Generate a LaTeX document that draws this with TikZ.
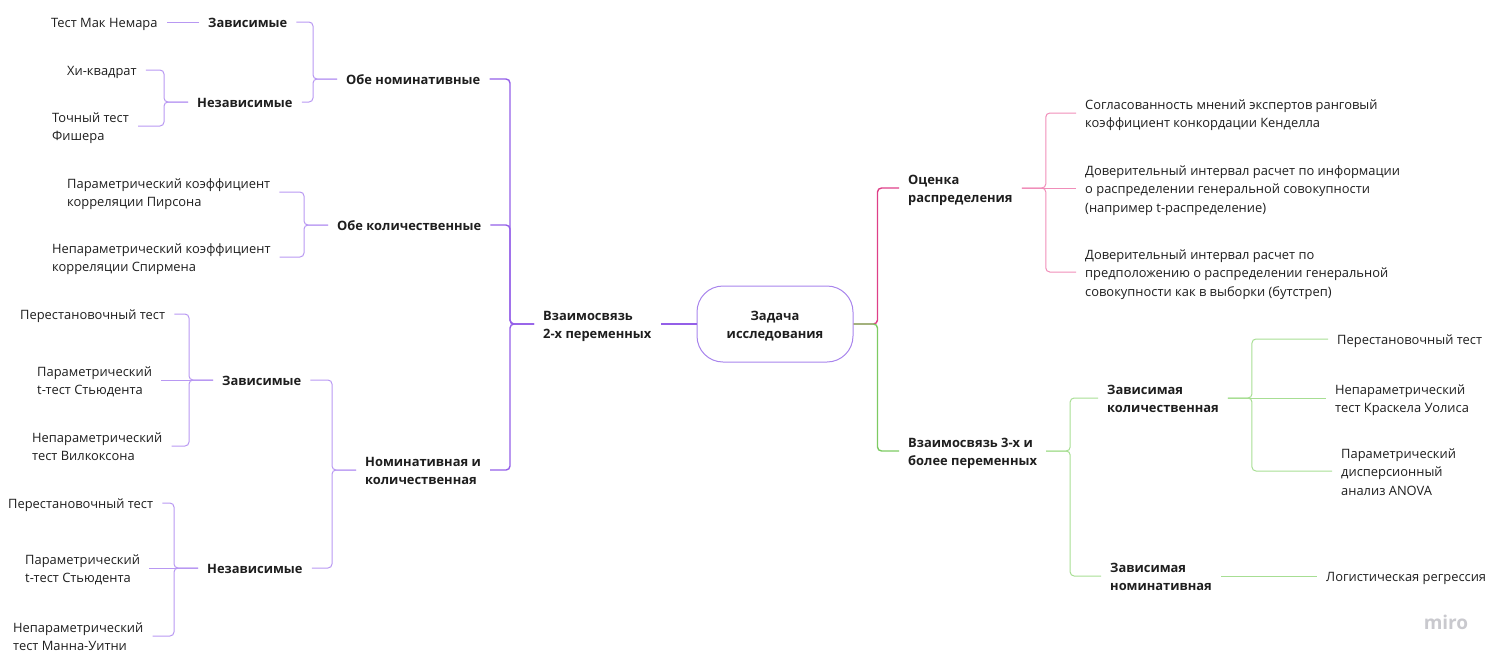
\documentclass[tikz,border=0pt]{standalone}
\usepackage{fontspec}
\setmainfont{Open Sans}
\usetikzlibrary{positioning}

\definecolor{txt}{HTML}{1E1E1E}
\definecolor{violetD}{HTML}{945FE8}
\definecolor{violetL}{HTML}{B898F2}
\definecolor{pinkD}{HTML}{DE3F88}
\definecolor{pinkL}{HTML}{F08DB9}
\definecolor{greenD}{HTML}{7DCB62}
\definecolor{greenL}{HTML}{A7DE93}
\definecolor{rim}{HTML}{A884EC}
\definecolor{wmark}{HTML}{C9C9CE}

\newcommand{\fsz}{\fontsize{12.9}{18.5}\selectfont}
\newcommand{\lns}[1]{\raisebox{-2pt}[\height][\depth]{\begin{tabular}{@{}l@{}}#1\end{tabular}}}
\newcommand{\lnc}[1]{\raisebox{-2pt}[\height][\depth]{\begin{tabular}{@{}c@{}}#1\end{tabular}}}

\tikzset{
  leaf/.style={anchor=west, inner xsep=9pt, inner ysep=0pt, text=txt, font=\fsz},
  branch/.style={leaf, font=\fsz\bfseries},
  lk/.style={line width=1pt, rounded corners=4pt, violetL},
  lkroot/.style={lk, line width=1.4pt, violetD},
  pk/.style={line width=1pt, rounded corners=4pt, pinkL},
  pkroot/.style={pk, line width=1.4pt, pinkD},
  gk/.style={line width=1pt, rounded corners=4pt, greenL},
  gkroot/.style={gk, line width=1.4pt, greenD}
}

\begin{document}
\begin{tikzpicture}[x=1pt, y=-1pt]
  \useasboundingbox (0,0) rectangle (1502,665);

  % root
  \node[draw=rim, line width=1pt, rounded corners=26pt, minimum width=156pt, minimum height=76pt,
        text=txt, font=\fsz\bfseries] (task) at (775,324) {\lnc{Задача\\исследования}};

  % left tree
  \node[branch] (pair) at (534,324) {\lns{Взаимосвязь\\2-х переменных}};
  \node[branch] (nomnom) at (337,79) {\lns{Обе номинативные}};
  \node[branch] (qq) at (328,225) {\lns{Обе количественные}};
  \node[branch] (nq) at (356,470) {\lns{Номинативная и\\количественная}};
  \node[branch] (nnDep) at (199,22) {\lns{Зависимые}};
  \node[branch] (nnInd) at (188,102) {\lns{Независимые}};
  \node[branch] (nqDep) at (213,380) {\lns{Зависимые}};
  \node[branch] (nqInd) at (198,568) {\lns{Независимые}};
  \node[leaf] (mcnemar) at (42,22) {\lns{Тест Мак Немара}};
  \node[leaf] (chi) at (58,70) {\lns{Хи-квадрат}};
  \node[leaf] (fisher) at (43,126) {\lns{Точный тест\\Фишера}};
  \node[leaf] (pearson) at (58,192) {\lns{Параметрический коэффициент\\корреляции Пирсона}};
  \node[leaf] (spearman) at (43,257) {\lns{Непараметрический коэффициент\\корреляции Спирмена}};
  \node[leaf] (permDep) at (11,314) {\lns{Перестановочный тест}};
  \node[leaf] (tDep) at (28,380) {\lns{Параметрический\\t-тест Стьюдента}};
  \node[leaf] (wilcox) at (23,446) {\lns{Непараметрический\\тест Вилкоксона}};
  \node[leaf] (permInd) at (-1,503) {\lns{Перестановочный тест}};
  \node[leaf] (tInd) at (16,568) {\lns{Параметрический\\t-тест Стьюдента}};
  \node[leaf] (mann) at (4,636) {\lns{Непараметрический\\тест Манна-Уитни}};

  % right tree
  \node[branch] (distr) at (899,188) {\lns{Оценка\\распределения}};
  \node[branch] (multi) at (899,451) {\lns{Взаимосвязь 3-х и\\более переменных}};
  \node[branch] (depQ) at (1098,398) {\lns{Зависимая\\количественная}};
  \node[branch] (depN) at (1101,576) {\lns{Зависимая\\номинативная}};
  \node[leaf] (kendall) at (1076,113) {\lns{Согласованность мнений экспертов ранговый\\коэффициент конкордации Кенделла}};
  \node[leaf] (ciT) at (1076,188) {\lns{Доверительный интервал расчет по информации\\о распределении генеральной совокупности\\(например t-распределение)}};
  \node[leaf] (ciBoot) at (1076,272) {\lns{Доверительный интервал расчет по\\предположению о распределении генеральной\\совокупности как в выборки (бутстреп)}};
  \node[leaf] (permQ) at (1328,339) {\lns{Перестановочный тест}};
  \node[leaf] (kruskal) at (1326,398) {\lns{Непараметрический\\тест Краскела Уолиса}};
  \node[leaf] (anova) at (1332,471) {\lns{Параметрический\\дисперсионный\\анализ ANOVA}};
  \node[leaf] (logit) at (1317,576) {\lns{Логистическая регрессия}};

  \node[text=wmark, font=\fontsize{19}{19}\selectfont\bfseries] (wm) at (1446,622) {miro};

  % connectors, left
  \draw[lkroot] (task.west) -- (pair.east);
  \draw[lkroot] (pair.west) -- ++(-24,0) |- (nomnom.east);
  \draw[lkroot] (pair.west) -- ++(-24,0) |- (qq.east);
  \draw[lkroot] (pair.west) -- ++(-24,0) |- (nq.east);
  \draw[lk] (nomnom.west) -- ++(-24,0) |- (nnDep.east);
  \draw[lk] (nomnom.west) -- ++(-24,0) |- (nnInd.east);
  \draw[lk] (nnDep.west) -- (mcnemar.east);
  \draw[lk] (nnInd.west) -- ++(-24,0) |- (chi.east);
  \draw[lk] (nnInd.west) -- ++(-24,0) |- (fisher.east);
  \draw[lk] (qq.west) -- ++(-24,0) |- (pearson.east);
  \draw[lk] (qq.west) -- ++(-24,0) |- (spearman.east);
  \draw[lk] (nq.west) -- ++(-24,0) |- (nqDep.east);
  \draw[lk] (nq.west) -- ++(-24,0) |- (nqInd.east);
  \draw[lk] (nqDep.west) -- ++(-24,0) |- (permDep.east);
  \draw[lk] (nqDep.west) -- (tDep.east);
  \draw[lk] (nqDep.west) -- ++(-24,0) |- (wilcox.east);
  \draw[lk] (nqInd.west) -- ++(-24,0) |- (permInd.east);
  \draw[lk] (nqInd.west) -- (tInd.east);
  \draw[lk] (nqInd.west) -- ++(-24,0) |- (mann.east);

  % connectors, right
  \draw[pkroot] (task.east) -- ++(24,0) |- (distr.west);
  \draw[gkroot] (task.east) -- ++(24,0) |- (multi.west);
  \draw[pk] (distr.east) -- ++(24,0) |- (kendall.west);
  \draw[pk] (distr.east) -- (ciT.west);
  \draw[pk] (distr.east) -- ++(24,0) |- (ciBoot.west);
  \draw[gk] (multi.east) -- ++(24,0) |- (depQ.west);
  \draw[gk] (multi.east) -- ++(24,0) |- (depN.west);
  \draw[gk] (depQ.east) -- ++(24,0) |- (permQ.west);
  \draw[gk] (depQ.east) -- (kruskal.west);
  \draw[gk] (depQ.east) -- ++(24,0) |- (anova.west);
  \draw[gk] (depN.east) -- (logit.west);
\end{tikzpicture}
\end{document}
